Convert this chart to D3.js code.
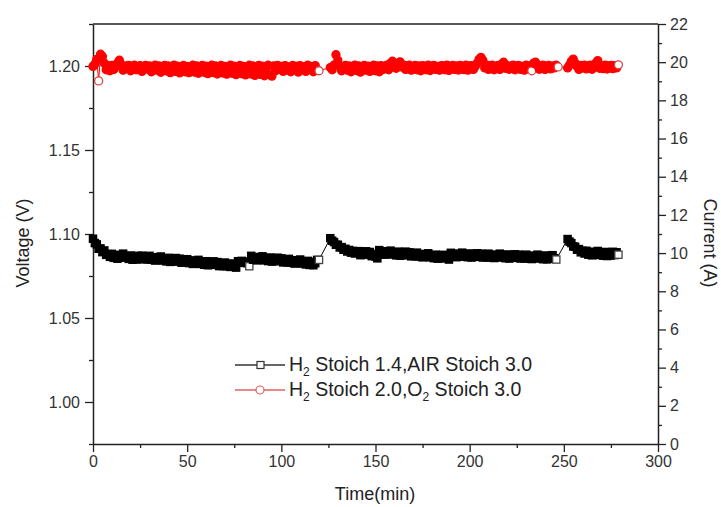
<!DOCTYPE html>
<html>
<head>
<meta charset="utf-8">
<style>
    body { margin: 0; background: #fff; }
    svg { font-family: "Liberation Sans", Arial, sans-serif; }
    .axis .domain { stroke: #222; stroke-width: 1.5; }
    .axis .tick line { stroke: #222; stroke-width: 1.3; }
    .axis .tick text { font-size: 16px; fill: #333; }
    .minor .domain { display: none; }
    .axis-title { font-size: 18px; fill: #222; }
    .legend text { font-size: 19.5px; fill: #222; }
</style>
</head>
<body>
<svg width="721" height="507"></svg>

<script src="https://d3js.org/d3.v7.min.js"></script>
<script>
// readings are taken once a minute; each block starts at the given minute
const sampleMinutes = 1;
const voltageStart = [0, 126, 252];
const currentStart = [0, 126, 252];

// H2 1.4 / AIR 3.0 - voltage (V), left axis
const voltageA = [
    1.0972, 1.0946, 1.0938, 1.0912, 1.0914, 1.0892, 1.0902, 1.0876, 1.0880, 1.0864,
    1.0882, 1.0858, 1.0871, 1.0853, 1.0876, 1.0865, 1.0883, 1.0859, 1.0868, 1.0852,
    1.0872, 1.0847, 1.0864, 1.0848, 1.0870, 1.0853, 1.0871, 1.0849, 1.0863, 1.0849,
    1.0870, 1.0847, 1.0861, 1.0842, 1.0862, 1.0849, 1.0866, 1.0842, 1.0852, 1.0837,
    1.0858, 1.0834, 1.0852, 1.0836, 1.0857, 1.0838, 1.0853, 1.0829, 1.0843, 1.0829,
    1.0850, 1.0827, 1.0841, 1.0822, 1.0842, 1.0829, 1.0846, 1.0822, 1.0832, 1.0817,
    1.0838, 1.0814, 1.0832, 1.0816, 1.0837, 1.0818, 1.0833, 1.0809, 1.0823, 1.0809,
    1.0830, 1.0808, 1.0822, 1.0804, 1.0824, 1.0812, 1.0800, 1.0838, 1.0828, 1.0840,
    1.0830, 1.0836, 1.0826, 1.0808, 1.0870, 1.0847, 1.0861, 1.0843, 1.0863, 1.0850,
    1.0867, 1.0843, 1.0853, 1.0839, 1.0860, 1.0836, 1.0854, 1.0838, 1.0859, 1.0840,
    1.0855, 1.0831, 1.0845, 1.0831, 1.0852, 1.0829, 1.0843, 1.0824, 1.0844, 1.0831,
    1.0848, 1.0824, 1.0834, 1.0819, 1.0840, 1.0816, 1.0834, 1.0814, 1.0826, 1.0846,
    1.0846
];
const voltageB = [
    1.0975, 1.0960, 1.0952, 1.0936, 1.0936, 1.0920, 1.0922, 1.0906, 1.0912, 1.0896,
    1.0905, 1.0889, 1.0899, 1.0884, 1.0897, 1.0898, 1.0874, 1.0892, 1.0876, 1.0897,
    1.0878, 1.0893, 1.0868, 1.0881, 1.0866, 1.0855, 1.0904, 1.0881, 1.0895, 1.0877,
    1.0897, 1.0884, 1.0901, 1.0878, 1.0888, 1.0873, 1.0895, 1.0871, 1.0889, 1.0873,
    1.0895, 1.0876, 1.0891, 1.0867, 1.0881, 1.0868, 1.0889, 1.0866, 1.0880, 1.0861,
    1.0881, 1.0868, 1.0885, 1.0861, 1.0871, 1.0856, 1.0877, 1.0853, 1.0871, 1.0855,
    1.0876, 1.0857, 1.0872, 1.0848, 1.0888, 1.0866, 1.0881, 1.0862, 1.0883, 1.0871,
    1.0889, 1.0865, 1.0876, 1.0862, 1.0884, 1.0860, 1.0879, 1.0864, 1.0885, 1.0867,
    1.0883, 1.0860, 1.0874, 1.0861, 1.0883, 1.0860, 1.0875, 1.0857, 1.0877, 1.0865,
    1.0883, 1.0860, 1.0870, 1.0856, 1.0878, 1.0854, 1.0873, 1.0858, 1.0879, 1.0861,
    1.0877, 1.0854, 1.0868, 1.0855, 1.0877, 1.0854, 1.0869, 1.0851, 1.0871, 1.0859,
    1.0877, 1.0854, 1.0864, 1.0850, 1.0872, 1.0849, 1.0868, 1.0852, 1.0874, 1.0856,
    1.0848
];
const voltageC = [
    1.0970, 1.0955, 1.0946, 1.0926, 1.0924, 1.0906, 1.0910, 1.0891, 1.0900, 1.0884,
    1.0900, 1.0877, 1.0892, 1.0873, 1.0894, 1.0881, 1.0899, 1.0875, 1.0886, 1.0871,
    1.0893, 1.0869, 1.0888, 1.0872, 1.0894, 1.0875, 1.0891, 1.0877
];

// H2 2.0 / O2 3.0 - current (A), right axis
const currentA = [
    19.78, 19.90, 20.15, 19.02, 20.42, 20.30, 19.95, 19.60, 19.82, 19.55,
    19.83, 19.62, 19.78, 19.95, 20.10, 19.85, 19.58, 19.80, 19.66, 19.83,
    19.55, 19.79, 19.84, 19.60, 19.75, 19.82, 19.52, 19.78, 19.83, 19.64,
    19.80, 19.50, 19.76, 19.84, 19.58, 19.81, 19.47, 19.74, 19.83, 19.55,
    19.80, 19.45, 19.72, 19.84, 19.52, 19.79, 19.44, 19.76, 19.83, 19.50,
    19.78, 19.45, 19.70, 19.84, 19.48, 19.80, 19.42, 19.74, 19.83, 19.47,
    19.79, 19.40, 19.71, 19.84, 19.45, 19.80, 19.38, 19.73, 19.83, 19.43,
    19.78, 19.37, 19.70, 19.84, 19.42, 19.79, 19.35, 19.72, 19.83, 19.40,
    19.78, 19.33, 19.69, 19.84, 19.38, 19.80, 19.31, 19.71, 19.83, 19.36,
    19.79, 19.29, 19.68, 19.84, 19.33, 19.27, 19.80, 19.55, 19.83, 19.62,
    19.78, 19.52, 19.82, 19.60, 19.75, 19.50, 19.83, 19.64, 19.79, 19.48,
    19.82, 19.60, 19.76, 19.52, 19.84, 19.63, 19.78, 19.50, 19.82, 19.58,
    19.55
];
const currentB = [
    19.72, 19.60, 19.85, 20.39, 20.10, 19.80, 19.55, 19.78, 19.83, 19.58,
    19.80, 19.50, 19.76, 19.84, 19.56, 19.81, 19.48, 19.75, 19.83, 19.58,
    19.79, 19.52, 19.77, 19.84, 19.55, 19.80, 19.50, 19.82, 19.62, 19.78,
    19.84, 19.60, 19.95, 20.05, 19.82, 19.68, 19.90, 20.02, 19.75, 19.85,
    19.62, 19.80, 19.84, 19.58, 19.77, 19.83, 19.60, 19.80, 19.55, 19.82,
    19.78, 19.60, 19.84, 19.56, 19.79, 19.83, 19.62, 19.78, 19.58, 19.82,
    19.80, 19.60, 19.84, 19.57, 19.78, 19.83, 19.62, 19.80, 19.59, 19.83,
    19.78, 19.61, 19.84, 19.58, 19.80, 19.82, 19.62, 19.79, 19.95, 20.15,
    20.25, 20.10, 19.70, 19.85, 19.62, 19.80, 19.84, 19.60, 19.78, 19.83,
    19.62, 19.90, 20.00, 19.68, 19.82, 19.63, 19.79, 19.84, 19.60, 19.80,
    19.83, 19.62, 19.78, 19.58, 19.84, 19.66, 19.80, 19.55, 19.95, 20.00,
    19.82, 19.63, 19.80, 19.84, 19.62, 19.79, 19.83, 19.65, 19.80, 19.70,
    19.84, 19.75
];
const currentC = [
    19.70, 19.85, 20.05, 20.16, 19.95, 19.78, 19.62, 19.83, 19.70, 19.84,
    19.65, 19.80, 19.84, 19.63, 19.79, 19.95, 20.08, 19.68, 19.82, 19.66,
    19.84, 19.64, 19.80, 19.83, 19.66, 19.82, 19.70, 19.86
];

const timeTicks = [0, 50, 100, 150, 200, 250, 300];
const timeMinor = [25, 75, 125, 175, 225, 275];
const voltTicks = [1.00, 1.05, 1.10, 1.15, 1.20];
const voltMinor = [0.975, 1.025, 1.075, 1.125, 1.175, 1.225];
const currTicks = [0, 2, 4, 6, 8, 10, 12, 14, 16, 18, 20, 22];
const currMinor = [1, 3, 5, 7, 9, 11, 13, 15, 17, 19, 21];

const seriesNames = ["Stoich 1.4,AIR Stoich 3.0", "Stoich 2.0,O", "Stoich 3.0"];

function toPoints(starts, blocks) {
    let pts = [];
    blocks.forEach(function (vals, k) {
        vals.forEach(function (v, i) {
            pts.push({ t: starts[k] + i * sampleMinutes, v: v });
        });
    });
    return pts;
}
let voltage = toPoints(voltageStart, [voltageA, voltageB, voltageC]);
let current = toPoints(currentStart, [currentA, currentB, currentC]);

let svg = d3.select("svg");
let margin = { top: 24, right: 63, bottom: 63, left: 93 };
let width = 721, height = 507;

let x = d3.scaleLinear().domain([0, 300]).range([margin.left, width - margin.right]);
let yV = d3.scaleLinear().domain([0.975, 1.225]).range([height - margin.bottom, margin.top]);
let yI = d3.scaleLinear().domain([0, 22]).range([height - margin.bottom, margin.top]);

// the data are dense: a marker only shows its white inside when
// no later marker is drawn close over it
function markExposed(pts, yScale, reach) {
    pts.forEach(function (p, i) {
        p.open = true;
        for (let j = i + 1; j < Math.min(pts.length, i + 6); j++) {
            let dx = x(pts[j].t) - x(p.t);
            let dy = yScale(pts[j].v) - yScale(p.v);
            if (Math.hypot(dx, dy) < reach) { p.open = false; break; }
        }
    });
}
markExposed(voltage, yV, 6.5);
markExposed(current, yI, 7.6);

// frame top edge
svg.append("line")
    .attr("x1", x(0)).attr("x2", x(300))
    .attr("y1", yV(1.225)).attr("y2", yV(1.225))
    .style("stroke", "#222").style("stroke-width", 1.5);

// minor ticks first
svg.append("g").attr("class", "axis minor")
    .attr("transform", `translate(0,${height - margin.bottom})`)
    .call(d3.axisBottom(x).tickValues(timeMinor).tickSize(4).tickFormat(""));
svg.append("g").attr("class", "axis minor")
    .attr("transform", `translate(${margin.left},0)`)
    .call(d3.axisLeft(yV).tickValues(voltMinor).tickSize(4).tickFormat(""));
svg.append("g").attr("class", "axis minor")
    .attr("transform", `translate(${width - margin.right},0)`)
    .call(d3.axisRight(yI).tickValues(currMinor).tickSize(4).tickFormat(""));

svg.append("g").attr("class", "axis")
    .attr("transform", `translate(0,${height - margin.bottom})`)
    .call(d3.axisBottom(x).tickValues(timeTicks).tickSize(8).tickSizeOuter(0).tickPadding(4).tickFormat(d3.format("d")));
svg.append("g").attr("class", "axis")
    .attr("transform", `translate(${margin.left},0)`)
    .call(d3.axisLeft(yV).tickValues(voltTicks).tickSize(8).tickSizeOuter(0).tickPadding(5).tickFormat(d3.format(".2f")));
svg.append("g").attr("class", "axis")
    .attr("transform", `translate(${width - margin.right},0)`)
    .call(d3.axisRight(yI).tickValues(currTicks).tickSize(8).tickSizeOuter(0).tickPadding(4).tickFormat(d3.format("d")));

// axis titles
svg.append("text").attr("class", "axis-title")
    .attr("text-anchor", "middle")
    .attr("transform", "translate(29,243) rotate(-90)")
    .text("Voltage (V)");
svg.append("text").attr("class", "axis-title")
    .attr("text-anchor", "middle")
    .attr("transform", "translate(704,243) rotate(90)")
    .text("Current (A)");
svg.append("text").attr("class", "axis-title")
    .attr("text-anchor", "middle")
    .attr("x", 375).attr("y", 500)
    .text("Time(min)");

// voltage series: black squares
svg.append("path")
    .datum(voltage)
    .attr("d", d3.line().x(d => x(d.t)).y(d => yV(d.v)))
    .style("fill", "none").style("stroke", "#000").style("stroke-width", 1);
svg.selectAll("rect.sq")
    .data(voltage)
    .enter().append("rect")
    .attr("class", "sq")
    .attr("x", d => x(d.t) - 3.6)
    .attr("y", d => yV(d.v) - 3.6)
    .attr("width", 7.2).attr("height", 7.2)
    .style("fill", d => d.open ? "#fff" : "#000")
    .style("stroke", d => d.open ? "#444" : "#000")
    .style("stroke-width", 1.3);

// current series: red circles
svg.append("path")
    .datum(current)
    .attr("d", d3.line().x(d => x(d.t)).y(d => yI(d.v)))
    .style("fill", "none").style("stroke", "#f00").style("stroke-width", 1);
svg.selectAll("circle.ci")
    .data(current)
    .enter().append("circle")
    .attr("class", "ci")
    .attr("cx", d => x(d.t))
    .attr("cy", d => yI(d.v))
    .attr("r", 4)
    .style("fill", d => d.open ? "#fff" : "#f00")
    .style("stroke", d => d.open ? "#d44" : "#f00")
    .style("stroke-width", 1.3);

// legend
let legend = svg.append("g").attr("class", "legend");
let rows = [{ y: 365, color: "#333", mark: "square" }, { y: 390, color: "#e06060", mark: "circle" }];
rows.forEach(function (r) {
    legend.append("line")
        .attr("x1", 235).attr("x2", 285).attr("y1", r.y).attr("y2", r.y)
        .style("stroke", r.color).style("stroke-width", 1.3);
    if (r.mark === "square") {
        legend.append("rect").attr("x", 257).attr("y", r.y - 3.5).attr("width", 7).attr("height", 7)
            .style("fill", "#fff").style("stroke", r.color).style("stroke-width", 1.2);
    } else {
        legend.append("circle").attr("cx", 260).attr("cy", r.y).attr("r", 4)
            .style("fill", "#fff").style("stroke", r.color).style("stroke-width", 1.2);
    }
});
let t1 = legend.append("text").attr("x", 289).attr("y", 371);
t1.append("tspan").text("H");
t1.append("tspan").attr("dy", 5).style("font-size", "12px").text("2");
t1.append("tspan").attr("dy", -5).text(" " + seriesNames[0]);
let t2 = legend.append("text").attr("x", 289).attr("y", 396);
t2.append("tspan").text("H");
t2.append("tspan").attr("dy", 5).style("font-size", "12px").text("2");
t2.append("tspan").attr("dy", -5).text(" " + seriesNames[1]);
t2.append("tspan").attr("dy", 5).style("font-size", "12px").text("2");
t2.append("tspan").attr("dy", -5).text(" " + seriesNames[2]);
</script>
</body>
</html>
